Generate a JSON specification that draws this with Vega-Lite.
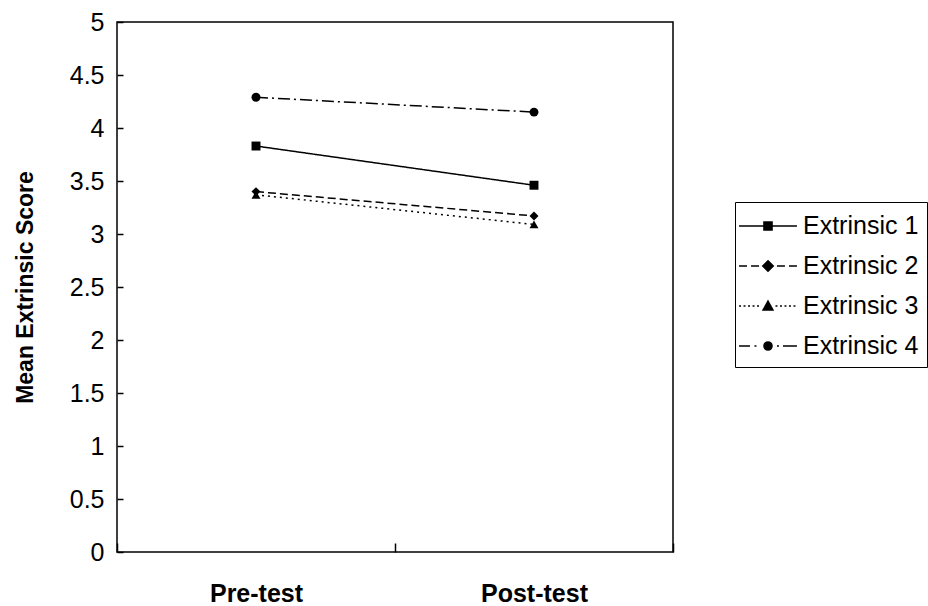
{
  "$schema": "https://vega.github.io/schema/vega-lite/v6.json",
  "description": "Mean extrinsic score, pre-test vs post-test",
  "autosize": "none",
  "width": 556,
  "height": 530,
  "padding": {"left": 117, "top": 22, "right": 255, "bottom": 54},
  "background": "white",
  "config": {
    "font": "Liberation Sans",
    "view": {"stroke": "black", "strokeWidth": 1.5},
    "axis": {
      "labelFont": "Liberation Sans",
      "titleFont": "Liberation Sans",
      "labelColor": "black",
      "titleColor": "black",
      "domainColor": "black",
      "tickColor": "black",
      "grid": false
    },
    "legend": {
      "labelFont": "Liberation Sans",
      "labelColor": "black",
      "symbolBaseStrokeColor": "black",
      "symbolBaseFillColor": "black"
    }
  },
  "data": {
    "values": [
      {"series": "Extrinsic 1", "test": "Pre-test", "score": 3.83},
      {"series": "Extrinsic 1", "test": "Post-test", "score": 3.46},
      {"series": "Extrinsic 2", "test": "Pre-test", "score": 3.4},
      {"series": "Extrinsic 2", "test": "Post-test", "score": 3.17},
      {"series": "Extrinsic 3", "test": "Pre-test", "score": 3.37},
      {"series": "Extrinsic 3", "test": "Post-test", "score": 3.09},
      {"series": "Extrinsic 4", "test": "Pre-test", "score": 4.29},
      {"series": "Extrinsic 4", "test": "Post-test", "score": 4.15}
    ]
  },
  "encoding": {
    "x": {
      "field": "test",
      "type": "nominal",
      "sort": ["Pre-test", "Post-test"],
      "scale": {"type": "band", "paddingInner": 0, "paddingOuter": 0},
      "axis": {
        "title": null,
        "labelAngle": 0,
        "labelFontSize": 25,
        "labelFontWeight": "bold",
        "labelPadding": 29,
        "tickBand": "extent",
        "tickSize": 9,
        "offset": -9,
        "domain": false,
        "tickWidth": 1.5
      }
    },
    "y": {
      "field": "score",
      "type": "quantitative",
      "scale": {"domain": [0, 5], "nice": false, "zero": true},
      "axis": {
        "title": "Mean Extrinsic Score",
        "titleFontSize": 23,
        "titleFontWeight": "bold",
        "titlePadding": 32,
        "values": [0, 0.5, 1, 1.5, 2, 2.5, 3, 3.5, 4, 4.5, 5],
        "format": "~g",
        "labelFontSize": 25,
        "labelPadding": 13,
        "tickSize": 6,
        "offset": -6,
        "domain": false,
        "tickWidth": 1.5
      }
    }
  },
  "layer": [
    {
      "mark": {"type": "line", "color": "black", "strokeWidth": 1.5},
      "encoding": {
        "strokeDash": {
          "field": "series",
          "type": "nominal",
          "scale": {
            "domain": ["Extrinsic 1", "Extrinsic 2", "Extrinsic 3", "Extrinsic 4"],
            "range": [[1, 0], [8, 4], [2, 4], [12, 4, 2, 4]]
          },
          "legend": null
        }
      }
    },
    {
      "mark": {"type": "point", "filled": true, "color": "black", "size": 80, "opacity": 1},
      "encoding": {
        "shape": {
          "field": "series",
          "type": "nominal",
          "scale": {
            "domain": ["Extrinsic 1", "Extrinsic 2", "Extrinsic 3", "Extrinsic 4"],
            "range": ["square", "diamond", "triangle-up", "circle"]
          },
          "legend": null
        }
      }
    },
    {
      "mark": {"type": "point", "filled": true, "color": "black", "stroke": "black", "strokeWidth": 1.5, "size": 0, "opacity": 1},
      "encoding": {
        "shape": {
          "field": "series",
          "type": "nominal",
          "scale": {
            "domain": ["Extrinsic 1", "Extrinsic 2", "Extrinsic 3", "Extrinsic 4"],
            "range": [
              "M-1.33,0H2.53M0.33,-0.27H0.87V0.27H0.33Z",
              "M-1.33,0H-0.8M-0.53,0H0M1.2,0H1.73M2,0H2.53M0.6,-0.35L0.95,0L0.6,0.35L0.25,0Z",
              "M-1.33,0h0.13M-1.03,0h0.13M-0.73,0h0.13M-0.43,0h0.13M-0.13,0h0.13M1.1,0h0.13M1.4,0h0.13M1.7,0h0.13M2,0h0.13M2.3,0h0.13M0.6,-0.33L0.93,0.27L0.27,0.27Z",
              "M-1.33,0H-0.6M-0.3,0h0.13M1.2,0h0.13M1.6,0H2.53M0.87,0A0.27,0.27 0 1,1 0.33,0A0.27,0.27 0 1,1 0.87,0Z"
            ]
          },
          "legend": {
            "title": null,
            "orient": "none",
            "legendX": 618,
            "legendY": 180,
            "strokeColor": "black",
            "padding": 8,
            "labelFontSize": 25,
            "labelOffset": 28,
            "symbolSize": 900,
            "symbolStrokeWidth": 1.5,
            "symbolOpacity": 1,
            "rowPadding": 11
          }
        }
      }
    }
  ],
  "resolve": {"scale": {"shape": "independent"}}
}
